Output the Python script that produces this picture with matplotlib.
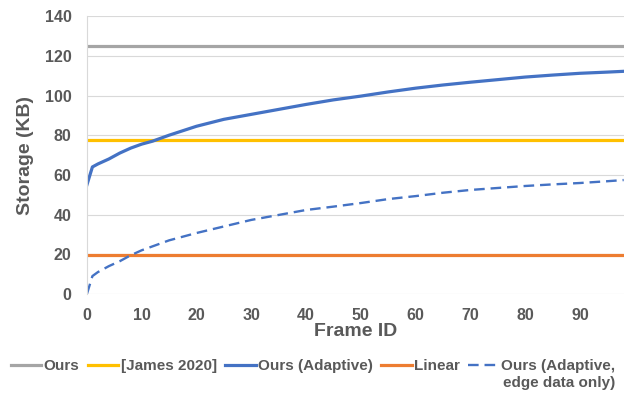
import matplotlib
matplotlib.use("Agg")
import matplotlib.pyplot as plt

plt.rcParams['font.family'] = ['Liberation Sans', 'DejaVu Sans']
plt.rcParams['font.weight'] = 'bold'

# frame ids
frames = [0, 1, 2, 4, 6, 8, 10, 12, 15, 20, 25, 30, 35, 40, 45, 50, 55,
          60, 65, 70, 75, 80, 85, 90, 95, 98]
adaptive = [55, 64, 65.5, 68, 71, 73.5, 75.5, 77, 80, 84.5, 88, 90.5, 93,
            95.5, 97.8, 99.7, 101.8, 103.7, 105.3, 106.7, 108, 109.3,
            110.3, 111.2, 111.8, 112.2]
adaptive_edge = [0, 9, 11, 14, 16.5, 19.5, 22, 24, 27, 30.7, 34, 37.3, 39.8,
                 42.3, 44, 45.8, 47.8, 49.3, 51, 52.4, 53.4, 54.4, 55.2,
                 55.9, 56.8, 57.4]
ours_const = 125
james_const = 77.5
linear_const = 19.5
x_end = 98

fig = plt.figure(figsize=(6.3, 3.94), dpi=100)
ax = fig.add_axes([0.138, 0.254, 0.852, 0.705])

txt = '#595959'
ax.plot([0, x_end], [ours_const] * 2, color='#A5A5A5', lw=2.3, label='Ours')
ax.plot([0, x_end], [james_const] * 2, color='#FFC000', lw=2.3, label='[James 2020]')
ax.plot(frames, adaptive, color='#4472C4', lw=2.3, label='Ours (Adaptive)')
ax.plot([0, x_end], [linear_const] * 2, color='#ED7D31', lw=2.3, label='Linear')
ax.plot(frames, adaptive_edge, color='#4472C4', lw=1.7, ls=(0, (4.5, 2.5)),
        label='Ours (Adaptive,')

ax.set_xlim(0, x_end)
ax.set_ylim(0, 140)
ax.set_xticks(range(0, 100, 10))
ax.set_yticks(range(0, 141, 20))
ax.grid(axis='y', color='#D9D9D9', lw=0.8)
ax.set_axisbelow(True)
for s in ['top', 'right', 'bottom']:
    ax.spines[s].set_visible(False)
ax.spines['left'].set_color('#D9D9D9')
ax.tick_params(axis='y', length=0, labelsize=11.5, colors=txt, pad=11)
ax.tick_params(axis='x', length=0, labelsize=11.5, colors=txt, pad=10)
for lab in ax.get_xticklabels() + ax.get_yticklabels():
    lab.set_fontweight('bold')

ax.set_xlabel('Frame ID', fontsize=14, fontweight='bold', color=txt, labelpad=0)
ax.set_ylabel('Storage (KB)', fontsize=14, fontweight='bold', color=txt, labelpad=8)

leg = fig.legend(loc='center', bbox_to_anchor=(0.497, 1 - 366 / 394), ncol=5,
                 frameon=False, fontsize=11, handlelength=2.0,
                 handletextpad=0.15, columnspacing=0.55, borderpad=0)
for t in leg.get_texts():
    t.set_color(txt)
    t.set_fontweight('bold')

# second line of the last legend label
fig.canvas.draw()
bb = leg.get_texts()[-1].get_window_extent()
fig.text(bb.x0 / 630 + 0.002, 1 - 383 / 394, 'edge data only)', fontsize=11,
         fontweight='bold', color=txt, ha='left', va='center')

fig.savefig('out.png', dpi=100)
